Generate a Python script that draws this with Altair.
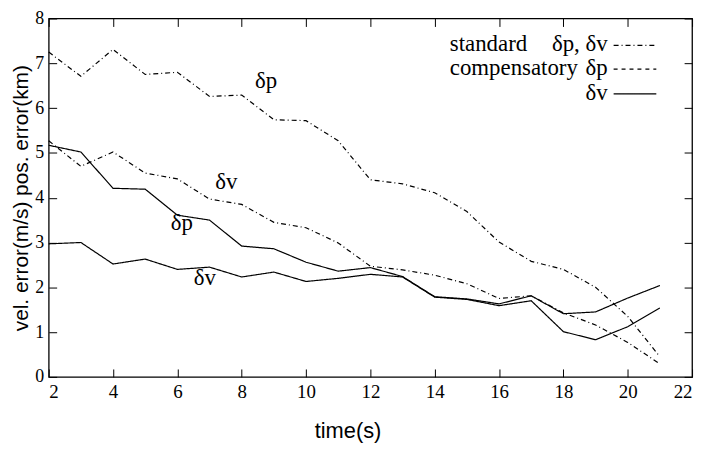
import altair as alt
import pandas as pd

# ---- data ----
time_s = list(range(2, 22))
std_dp = [7.25, 6.71, 7.31, 6.75, 6.80, 6.26, 6.29, 5.74, 5.72, 5.27,
          4.40, 4.31, 4.11, 3.69, 3.01, 2.58, 2.40, 2.00, 1.35, 0.45]
std_dv = [5.27, 4.70, 5.02, 4.55, 4.42, 3.97, 3.85, 3.45, 3.33, 2.99,
          2.47, 2.39, 2.27, 2.08, 1.75, 1.81, 1.43, 1.16, 0.77, 0.29]
comp_dp = [5.17, 5.02, 4.21, 4.19, 3.61, 3.50, 2.92, 2.86, 2.56, 2.36,
           2.44, 2.24, 1.79, 1.74, 1.63, 1.81, 1.41, 1.45, 1.76, 2.04]
comp_dv = [2.97, 3.00, 2.52, 2.63, 2.40, 2.45, 2.23, 2.34, 2.13, 2.20,
           2.29, 2.23, 1.78, 1.73, 1.59, 1.70, 1.01, 0.83, 1.12, 1.54]
series_names = ["standard δp", "standard δv", "compensatory δp", "compensatory δv"]

x_ticks = list(range(2, 23, 2))
y_ticks = list(range(0, 9))

# curve annotations (text, x, y in data units)
ann_text = ["δp", "δv", "δp", "δv"]
ann_x = [8.76, 7.52, 6.14, 6.85]
ann_y = [6.6, 4.35, 3.43, 2.2]

legend_left = ["standard", "compensatory", ""]
legend_right = ["δp, δv", "δp", "δv"]

# ---- build table ----
rows = []
for name, vals in zip(series_names, [std_dp, std_dv, comp_dp, comp_dv]):
    for t, v in zip(time_s, vals):
        rows.append({"series": name, "time": t, "err": v})
df = pd.DataFrame(rows)

SERIF = "Liberation Serif"
SANS = "Liberation Sans"

x_scale = alt.Scale(domain=[2, 22], nice=False, zero=False)
y_scale = alt.Scale(domain=[0, 8], nice=False)

dash_main = [5, 3, 1, 3]

lines = alt.Chart(df).mark_line(color="black", strokeWidth=1.2).encode(
    x=alt.X("time:Q", scale=x_scale,
            axis=alt.Axis(values=x_ticks, title="time(s)", offset=-8, tickSize=8,
                          domain=False, grid=False, labelPadding=6,
                          labelFont=SERIF, labelFontSize=19, labelColor="black",
                          tickColor="black", tickWidth=1,
                          titleFont=SANS, titleFontSize=22, titleFontWeight="normal",
                          titleColor="black", titlePadding=19, titleX=301)),
    y=alt.Y("err:Q", scale=y_scale,
            axis=alt.Axis(values=y_ticks, title="vel. error(m/s)   pos. error(km)",
                          offset=-8, tickSize=8, domain=False, grid=False,
                          labelPadding=5, labelFont=SERIF, labelFontSize=18,
                          labelColor="black", tickColor="black", tickWidth=1,
                          titleFont=SANS, titleFontSize=21, titleFontWeight="normal",
                          titleColor="black", titlePadding=3)),
    strokeDash=alt.StrokeDash("series:N",
                              scale=alt.Scale(domain=series_names,
                                              range=[dash_main, dash_main, [1, 0], [1, 0]]),
                              legend=None),
    detail="series:N",
    order="time:Q",
)

frame_axes = alt.Chart(df).mark_point(opacity=0).encode(
    x=alt.X("time:Q", scale=x_scale,
            axis=alt.Axis(orient="top", values=x_ticks, labels=False, title="",
                          offset=-8, tickSize=8, domain=False, grid=False,
                          tickColor="black", tickWidth=1)),
    y=alt.Y("err:Q", scale=y_scale,
            axis=alt.Axis(orient="right", values=y_ticks, labels=False, title="",
                          offset=-8, tickSize=8, domain=False, grid=False,
                          tickColor="black", tickWidth=1)),
)

ann_df = pd.DataFrame({"label": ann_text, "x": ann_x, "y": ann_y})
ann = alt.Chart(ann_df).mark_text(font=SERIF, fontSize=23, color="black").encode(
    x=alt.X("x:Q", scale=x_scale, axis=None),
    y=alt.Y("y:Q", scale=y_scale, axis=None),
    text="label:N",
)

layers = [lines, frame_axes, ann]

# ---- manual legend (labels left of samples, as in the reference) ----
row_y = [26, 50, 75]
styles = [dash_main, [4, 4], [1, 0]]
for i in range(3):
    if legend_left[i]:
        layers.append(
            alt.Chart(pd.DataFrame({"t": [legend_left[i]]})).mark_text(
                font=SERIF, fontSize=23, color="black", align="left", baseline="middle"
            ).encode(x=alt.value(404), y=alt.value(row_y[i]), text="t:N")
        )
    layers.append(
        alt.Chart(pd.DataFrame({"t": [legend_right[i]]})).mark_text(
            font=SERIF, fontSize=23, color="black", align="right", baseline="middle"
        ).encode(x=alt.value(563), y=alt.value(row_y[i]), text="t:N")
    )
    layers.append(
        alt.Chart(pd.DataFrame({"t": [legend_right[i]]})).mark_rule(
            color="black", strokeWidth=1.2, strokeDash=styles[i]
        ).encode(x=alt.value(569), x2=alt.value(612), y=alt.value(row_y[i] + 1))
    )

chart = alt.layer(*layers).resolve_axis(x="independent", y="independent").properties(
    width=648, height=361,
    autosize=alt.AutoSizeParams(type="none"),
    padding={"left": 41, "top": 9, "right": 8, "bottom": 65},
    background="white",
).configure_view(stroke="black", strokeWidth=1.3)

chart.save("out.html", embed_options={"renderer": "svg", "actions": False})
